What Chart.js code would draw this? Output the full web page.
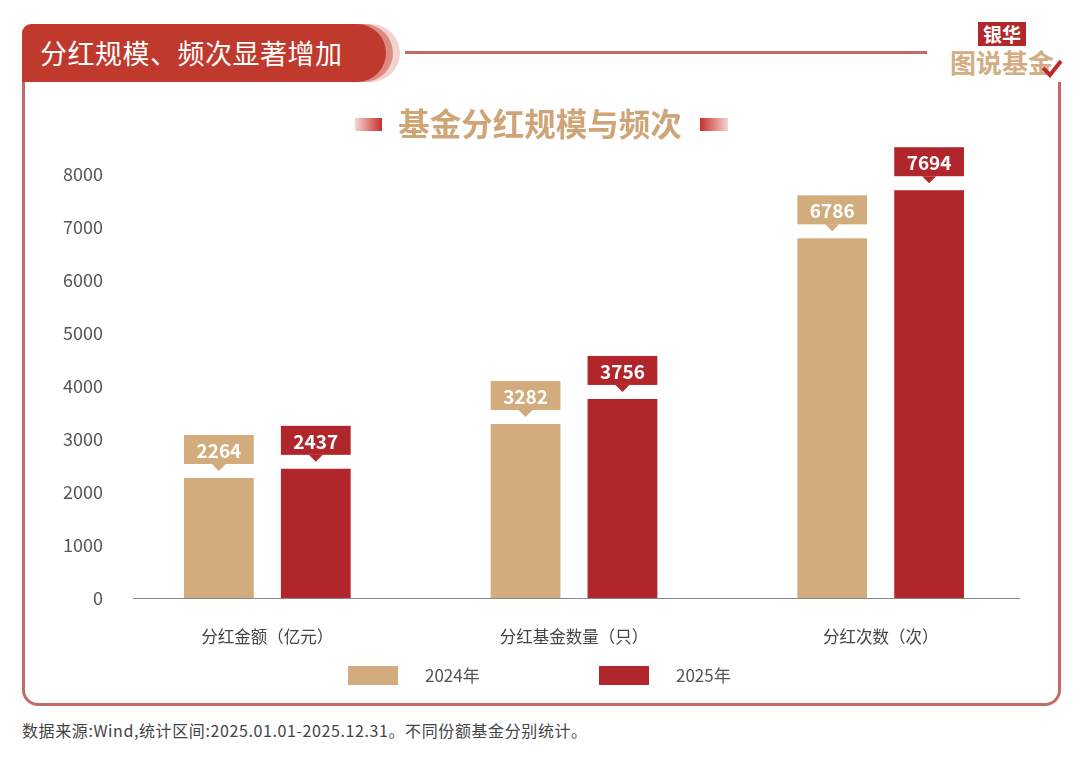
<!DOCTYPE html>
<html>
<head>
<meta charset="utf-8">
<script src="https://cdn.jsdelivr.net/npm/chart.js@4.4.1/dist/chart.umd.min.js"></script>
<style>
  body { margin: 0; width: 1081px; height: 760px; background: #fff; position: relative; overflow: hidden;
         font-family: "Noto Sans CJK SC", "Noto Sans", sans-serif; }
  #card { position: absolute; left: 22px; top: 82px; width: 1033px; height: 621px;
          border: 3px solid #c46a64; border-top: none; border-radius: 0 0 16px 16px; }
  .tab { position: absolute; top: 24px; height: 58px; border-radius: 10px 30px 30px 0; }
  #tab3 { left: 22px; width: 378px; background: #f3d3d0; }
  #tab2 { left: 22px; width: 371px; background: #dc8a84; }
  #tab1 { left: 22px; width: 364px; background: #c0392d; color: #fff; font-size: 27px;
          line-height: 58px; padding-left: 18px; box-sizing: border-box; letter-spacing: 0.5px; }
  #topline { position: absolute; left: 405px; top: 51px; width: 522px; height: 3px; background: #c46a64; }
  #logo1 { position: absolute; left: 978px; top: 22px; width: 48px; height: 24px; background: #b2282a;
           color: #fff; font-weight: bold; font-size: 19px; line-height: 24px; text-align: center; }
  #logo2 { position: absolute; left: 950px; top: 45px; font-weight: bold; font-size: 26px; color: #d3ad83;
           line-height: 34px; letter-spacing: 0px; }
  #check { position: absolute; left: 1040px; top: 58px; }
  #footer { position: absolute; left: 22px; top: 718px; font-size: 16px; color: #444; letter-spacing: 0.6px; }
  #chart { position: absolute; left: 0; top: 0; }
</style>
</head>
<body>
<div id="card"></div>
<div class="tab" id="tab3"></div>
<div class="tab" id="tab2"></div>
<div class="tab" id="tab1">分红规模、频次显著增加</div>
<div id="topline"></div>
<div id="logo2">图说基金</div>
<div id="logo1">银华</div>
<svg id="check" width="24" height="22"><polyline points="3,10 10,17 21,3" fill="none" stroke="#c0282a" stroke-width="4"/></svg>
<div id="footer">数据来源:Wind,统计区间:2025.01.01-2025.12.31。不同份额基金分别统计。</div>
<canvas id="chart" width="1081" height="760"></canvas>
<script>
const categories = ['分红金额（亿元）', '分红基金数量（只）', '分红次数（次）'];
const values2024 = [2264, 3282, 6786];
const values2025 = [2437, 3756, 7694];
const seriesNames = ['2024年', '2025年'];
const chartTitle = '基金分红规模与频次';

const tan = '#d3ac7e';
const red = '#b0262a';

// value boxes with a small pointer above each bar
const valueBoxes = {
    id: 'valueBoxes',
    afterDatasetsDraw(chart) {
        const ctx = chart.ctx;
        chart.data.datasets.forEach((ds, i) => {
            chart.getDatasetMeta(i).data.forEach((bar, j) => {
                const w = bar.width, x = bar.x, bottom = bar.y - 14, h = 29;
                ctx.save();
                ctx.fillStyle = ds.backgroundColor;
                ctx.fillRect(x - w / 2, bottom - h, w, h);
                ctx.beginPath();
                ctx.moveTo(x - 7, bottom);
                ctx.lineTo(x + 7, bottom);
                ctx.lineTo(x, bottom + 7);
                ctx.closePath();
                ctx.fill();
                ctx.fillStyle = '#fff';
                ctx.font = 'bold 19px "Noto Sans CJK SC"';
                ctx.textAlign = 'center';
                ctx.textBaseline = 'middle';
                ctx.fillText(ds.data[j], x, bottom - h / 2 + 1);
                ctx.restore();
            });
        });
    }
};

// title with gradient dashes, baseline and legend
const decorations = {
    id: 'decorations',
    afterDraw(chart) {
        const ctx = chart.ctx;
        ctx.save();
        ctx.font = 'bold 31.5px "Noto Sans CJK SC"';
        ctx.fillStyle = '#cfa577';
        ctx.textAlign = 'center';
        ctx.textBaseline = 'middle';
        ctx.fillText(chartTitle, 540, 124);

        let g = ctx.createLinearGradient(355, 0, 382, 0);
        g.addColorStop(0, '#f6d4d0');
        g.addColorStop(1, '#c8302c');
        ctx.fillStyle = g;
        ctx.fillRect(355, 118, 27, 13);
        g = ctx.createLinearGradient(700, 0, 728, 0);
        g.addColorStop(0, '#c8302c');
        g.addColorStop(1, '#f6d4d0');
        ctx.fillStyle = g;
        ctx.fillRect(700, 118, 28, 13);

        // baseline
        const y0 = chart.scales.y.getPixelForValue(0);
        ctx.strokeStyle = '#8a8a8a';
        ctx.lineWidth = 1;
        ctx.beginPath();
        ctx.moveTo(chart.chartArea.left + 19, y0 + 0.5);
        ctx.lineTo(chart.chartArea.right - 14, y0 + 0.5);
        ctx.stroke();

        // legend
        ctx.font = '17px "Noto Sans CJK SC"';
        ctx.textAlign = 'left';
        let lx = 348;
        chart.data.datasets.forEach((ds) => {
            ctx.fillStyle = ds.backgroundColor;
            ctx.fillRect(lx, 666, 50, 19);
            ctx.fillStyle = '#555';
            ctx.fillText(ds.label, lx + 77, 676);
            lx += 251;
        });
        ctx.restore();
    }
};

const config = {
    type: 'bar',
    data: {
        labels: categories,
        datasets: [
            { label: seriesNames[0], data: values2024, backgroundColor: tan },
            { label: seriesNames[1], data: values2025, backgroundColor: red }
        ]
    },
    options: {
        responsive: false,
        animation: false,
        datasets: { bar: { categoryPercentage: 0.632, barPercentage: 0.72 } },
        layout: { padding: { left: 40, right: 47, top: 174, bottom: 92 } },
        scales: {
            x: {
                grid: { display: false },
                border: { display: false },
                ticks: { color: '#444', font: { family: 'Noto Sans CJK SC', size: 16.5 }, padding: 21 },
                afterFit(scale) { scale.height = 70; }
            },
            y: {
                min: 0,
                max: 8000,
                grid: { display: false },
                border: { display: false },
                ticks: {
                    stepSize: 1000,
                    color: '#555',
                    font: { family: 'Noto Sans CJK SC', size: 18 },
                    padding: 3,
                    callback: (v) => String(v)
                },
                afterFit(scale) { scale.width = 74; }
            }
        },
        plugins: {
            legend: { display: false },
            tooltip: { enabled: false }
        }
    },
    plugins: [valueBoxes, decorations]
};

new Chart(document.getElementById('chart').getContext('2d'), config);
</script>
</body>
</html>
